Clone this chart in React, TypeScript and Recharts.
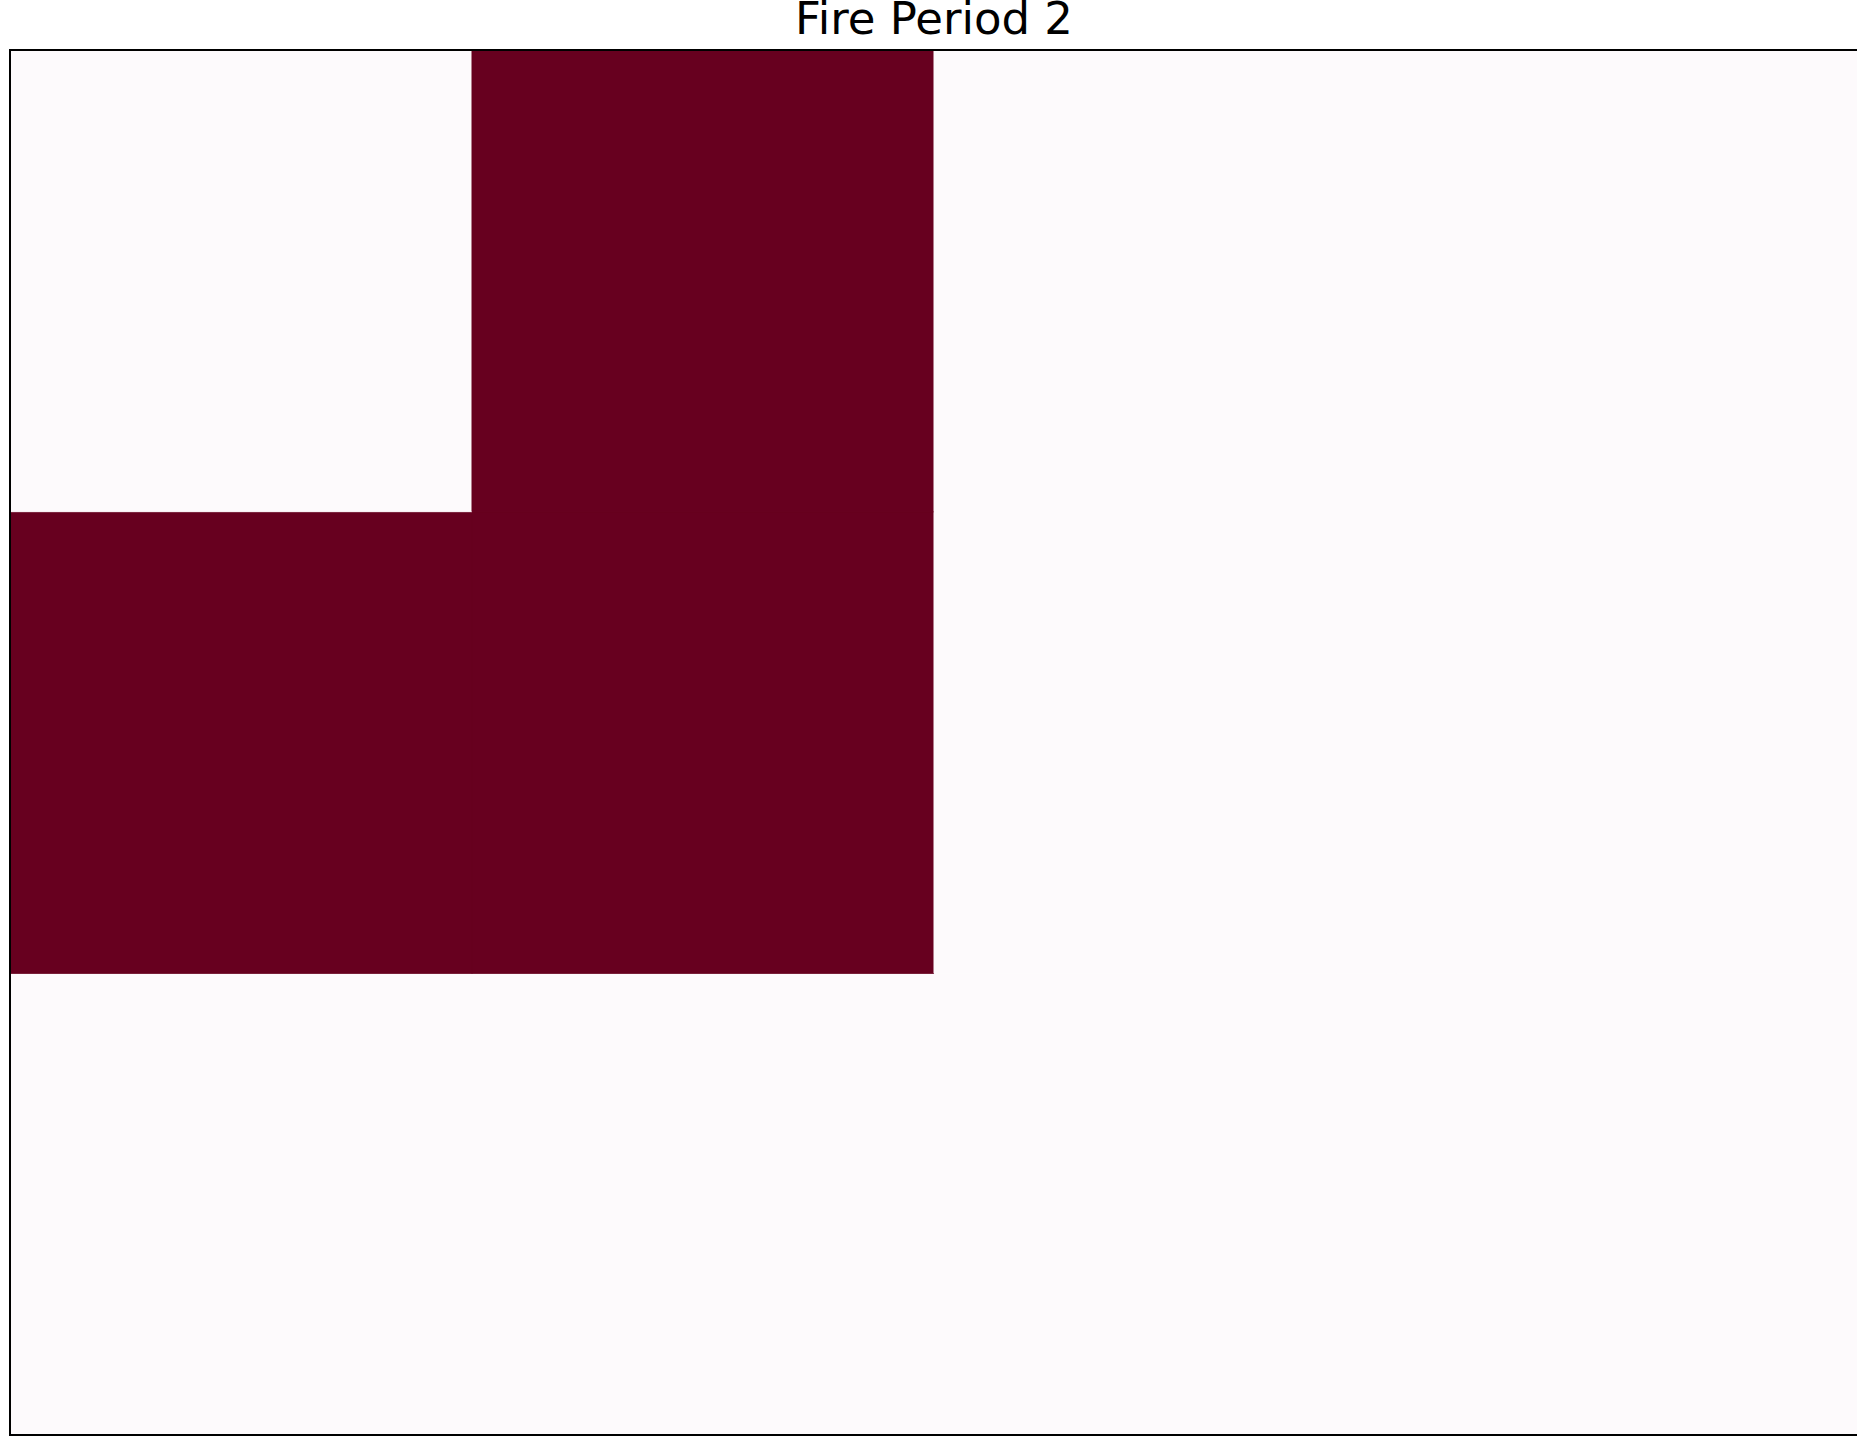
import { BarChart, Bar, XAxis, YAxis, Cell, ReferenceArea, Label } from "recharts";

// grid cells, columns left to right, rows top to bottom (1 = burned)
const columns = ["c0", "c1", "c2", "c3"];
const rowTop = [0, 1, 0, 0];
const rowMid = [1, 1, 0, 0];
const rowBottom = [0, 0, 0, 0];

const ON = "#67001f";
const OFF = "#fdfafc";

const data = columns.map((col) => ({ col, r2: 1, r1: 1, r0: 1 }));

const fill = (v: number) => (v ? ON : OFF);

export default function App() {
  return (
    <div style={{ position: "absolute", top: 0, left: 0, width: 1857, height: 1446, overflow: "hidden" }}>
      <BarChart
        width={1858}
        height={1446}
        data={data}
        margin={{ top: 50, right: 0, left: 10, bottom: 11 }}
        barCategoryGap={0}
        barGap={0}
      >
        <XAxis dataKey="col" hide />
        <YAxis type="number" domain={[0, 3]} hide />
        <Bar dataKey="r2" stackId="a" isAnimationActive={false}>
          {rowBottom.map((v, i) => (
            <Cell key={i} fill={fill(v)} stroke={fill(v)} strokeWidth={1} />
          ))}
        </Bar>
        <Bar dataKey="r1" stackId="a" isAnimationActive={false}>
          {rowMid.map((v, i) => (
            <Cell key={i} fill={fill(v)} stroke={fill(v)} strokeWidth={1} />
          ))}
        </Bar>
        <Bar dataKey="r0" stackId="a" isAnimationActive={false}>
          {rowTop.map((v, i) => (
            <Cell key={i} fill={fill(v)} stroke={fill(v)} strokeWidth={1} />
          ))}
        </Bar>
        <ReferenceArea
          y1={0}
          y2={3}
          fill="none"
          fillOpacity={0}
          stroke="#000"
          strokeWidth={2}
          strokeOpacity={1}
          zIndex={1500}
        >
          <Label
            value="Fire Period 2"
            position="top"
            offset={16}
            fill="#000"
            style={{ fontFamily: "DejaVu Sans", fontSize: 45 }}
          />
        </ReferenceArea>
      </BarChart>
    </div>
  );
}
